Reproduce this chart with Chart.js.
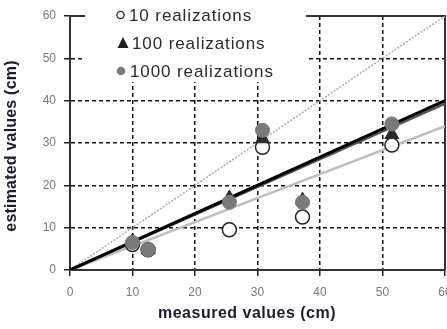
<!DOCTYPE html>
<html>
<head>
<meta charset="utf-8">
<script src="https://cdn.jsdelivr.net/npm/chart.js@4/dist/chart.umd.min.js"></script>
<style>
  html, body { margin: 0; padding: 0; background: #fff; }
  #wrap { width: 447px; height: 329px; overflow: hidden; }
</style>
</head>
<body>
<div id="wrap"><canvas id="chart" width="454" height="329"></canvas></div>
<script>
// measured values (cm) of the six sites
const measured = [10, 12.5, 25.5, 30.8, 37.2, 51.5];
// estimated values (cm) for each number of realizations
const est10 = [6, 4.8, 9.5, 29, 12.5, 29.5];
const est100 = [6.8, 4.8, 17, 31, 16.5, 32];
const est1000 = [6.5, 4.8, 16, 33, 16, 34.5];

// regression / reference lines, given at both ends of the axis
const lineX = [0, 60];
const oneToOne = [0, 60];
const fit10 = [0, 34];
const fit100 = [0, 40];
const fit1000 = [0, 39.3];

const axisTicks = [0, 10, 20, 30, 40, 50, 60];
const legendLabels = ['10 realizations', '100 realizations', '1000 realizations'];
const xTitle = 'measured values (cm)';
const yTitle = 'estimated values (cm)';

Chart.defaults.font.family = "'Liberation Sans', Arial, sans-serif";

function pts(xs, ys) {
    return xs.map((x, i) => ({ x: x, y: ys[i] }));
}

// dashed inner grid only, axis ends are drawn as solid borders
function gridColor(ctx) {
    const v = ctx.tick ? ctx.tick.value : 0;
    return (v > 0 && v < 60) ? '#111' : 'rgba(0,0,0,0)';
}

// top and right sides of the frame
const framePlugin = {
    id: 'frame',
    beforeDatasetsDraw(chart) {
        const a = chart.chartArea;
        const ctx = chart.ctx;
        ctx.save();
        ctx.strokeStyle = '#333';
        ctx.lineWidth = 2;
        ctx.beginPath();
        ctx.moveTo(a.left, a.top);
        ctx.lineTo(a.right, a.top);
        ctx.lineTo(a.right, a.bottom);
        ctx.stroke();
        ctx.restore();
    }
};

// axis titles, placed like in the original figure
const titlePlugin = {
    id: 'axisTitles',
    afterDraw(chart) {
        const ctx = chart.ctx;
        ctx.save();
        ctx.fillStyle = '#1d1d2b';
        ctx.font = "bold 16px 'Liberation Sans', Arial, sans-serif";
        ctx.letterSpacing = '0.5px';
        ctx.textAlign = 'center';
        ctx.textBaseline = 'middle';
        ctx.fillText(xTitle, 247, 314);
        ctx.letterSpacing = '0.2px';
        ctx.translate(12, 146);
        ctx.rotate(-Math.PI / 2);
        ctx.fillText(yTitle, 0, 0);
        ctx.restore();
    }
};

// legend box in the top-left corner, covering the grid behind it
const legendPlugin = {
    id: 'boxLegend',
    afterDraw(chart) {
        const ctx = chart.ctx;
        ctx.save();
        ctx.fillStyle = '#fff';
        ctx.fillRect(85, 0, 221, 82);
        const rows = [15, 43, 71];
        ctx.font = "17px 'Liberation Sans', Arial, sans-serif";
        ctx.letterSpacing = '0.9px';
        ctx.textBaseline = 'middle';
        ctx.fillStyle = '#2b2b2b';
        const textX = [129, 132, 130];
        legendLabels.forEach((t, i) => {
            ctx.fillText(t, textX[i], rows[i] + 1);
        });
        // markers
        ctx.lineWidth = 1.3;
        ctx.strokeStyle = '#222';
        ctx.fillStyle = '#fff';
        ctx.beginPath();
        ctx.arc(120.5, rows[0], 3.6, 0, Math.PI * 2);
        ctx.fill();
        ctx.stroke();
        ctx.fillStyle = '#1e1e1e';
        ctx.beginPath();
        ctx.moveTo(123, rows[1] - 6);
        ctx.lineTo(128.5, rows[1] + 5);
        ctx.lineTo(117.5, rows[1] + 5);
        ctx.closePath();
        ctx.fill();
        ctx.fillStyle = '#7d7d7d';
        ctx.beginPath();
        ctx.arc(121, rows[2], 4.3, 0, Math.PI * 2);
        ctx.fill();
        ctx.restore();
    }
};

const ctx = document.getElementById('chart');

new Chart(ctx, {
    type: 'scatter',
    data: {
        datasets: [
            {
                label: legendLabels[2],
                data: pts(measured, est1000),
                pointStyle: 'circle',
                pointRadius: 7,
                backgroundColor: '#7a7a7a',
                borderColor: '#7a7a7a',
                borderWidth: 1,
                order: 1
            },
            {
                label: legendLabels[1],
                data: pts(measured, est100),
                pointStyle: 'triangle',
                pointRadius: 8,
                backgroundColor: '#2a2a2a',
                borderColor: '#2a2a2a',
                borderWidth: 1,
                order: 2
            },
            {
                label: legendLabels[0],
                data: pts(measured, est10),
                pointStyle: 'circle',
                pointRadius: 7,
                backgroundColor: '#fff',
                borderColor: '#222',
                borderWidth: 1.5,
                order: 3
            },
            {
                label: 'fit 100',
                data: pts(lineX, fit100),
                showLine: true,
                pointRadius: 0,
                borderColor: '#000',
                borderWidth: 3,
                order: 4
            },
            {
                label: 'fit 1000',
                data: pts(lineX, fit1000),
                showLine: true,
                pointRadius: 0,
                borderColor: '#555',
                borderWidth: 2.5,
                order: 5
            },
            {
                label: 'fit 10',
                data: pts(lineX, fit10),
                showLine: true,
                pointRadius: 0,
                borderColor: '#bdbdbd',
                borderWidth: 2.5,
                order: 6
            },
            {
                label: '1:1',
                data: pts(lineX, oneToOne),
                showLine: true,
                pointRadius: 0,
                borderColor: '#a8a8a8',
                borderWidth: 1.5,
                borderDash: [2, 1.5],
                order: 7
            }
        ]
    },
    options: {
        responsive: false,
        animation: false,
        layout: { padding: { left: 0, top: 16, right: 3, bottom: 0 } },
        plugins: {
            legend: { display: false },
            tooltip: { enabled: false }
        },
        scales: {
            x: {
                type: 'linear',
                min: 0,
                max: 60,
                afterBuildTicks(scale) {
                    scale.ticks = axisTicks.map(v => ({ value: v }));
                },
                afterFit(scale) {
                    scale.height = 59;
                    scale.paddingLeft = 0;
                    scale.paddingRight = 0;
                },
                ticks: {
                    color: '#777',
                    font: { size: 12 },
                    padding: 9,
                    maxRotation: 0
                },
                grid: {
                    color: gridColor,
                    lineWidth: 1.5,
                    tickColor: '#222',
                    tickLength: 6,
                    tickWidth: 1.5
                },
                border: { display: true, color: '#333', width: 2, dash: [4, 3] }
            },
            y: {
                type: 'linear',
                min: 0,
                max: 60,
                afterBuildTicks(scale) {
                    scale.ticks = axisTicks.map(v => ({ value: v }));
                },
                afterFit(scale) {
                    scale.width = 70;
                    scale.paddingTop = 0;
                    scale.paddingBottom = 0;
                },
                ticks: {
                    color: '#777',
                    font: { size: 12 },
                    padding: 8
                },
                grid: {
                    color: gridColor,
                    lineWidth: 1.5,
                    tickColor: '#222',
                    tickLength: 6,
                    tickWidth: 1.5
                },
                border: { display: true, color: '#333', width: 2, dash: [4, 3] }
            }
        }
    },
    plugins: [framePlugin, titlePlugin, legendPlugin]
});
</script>
</body>
</html>
